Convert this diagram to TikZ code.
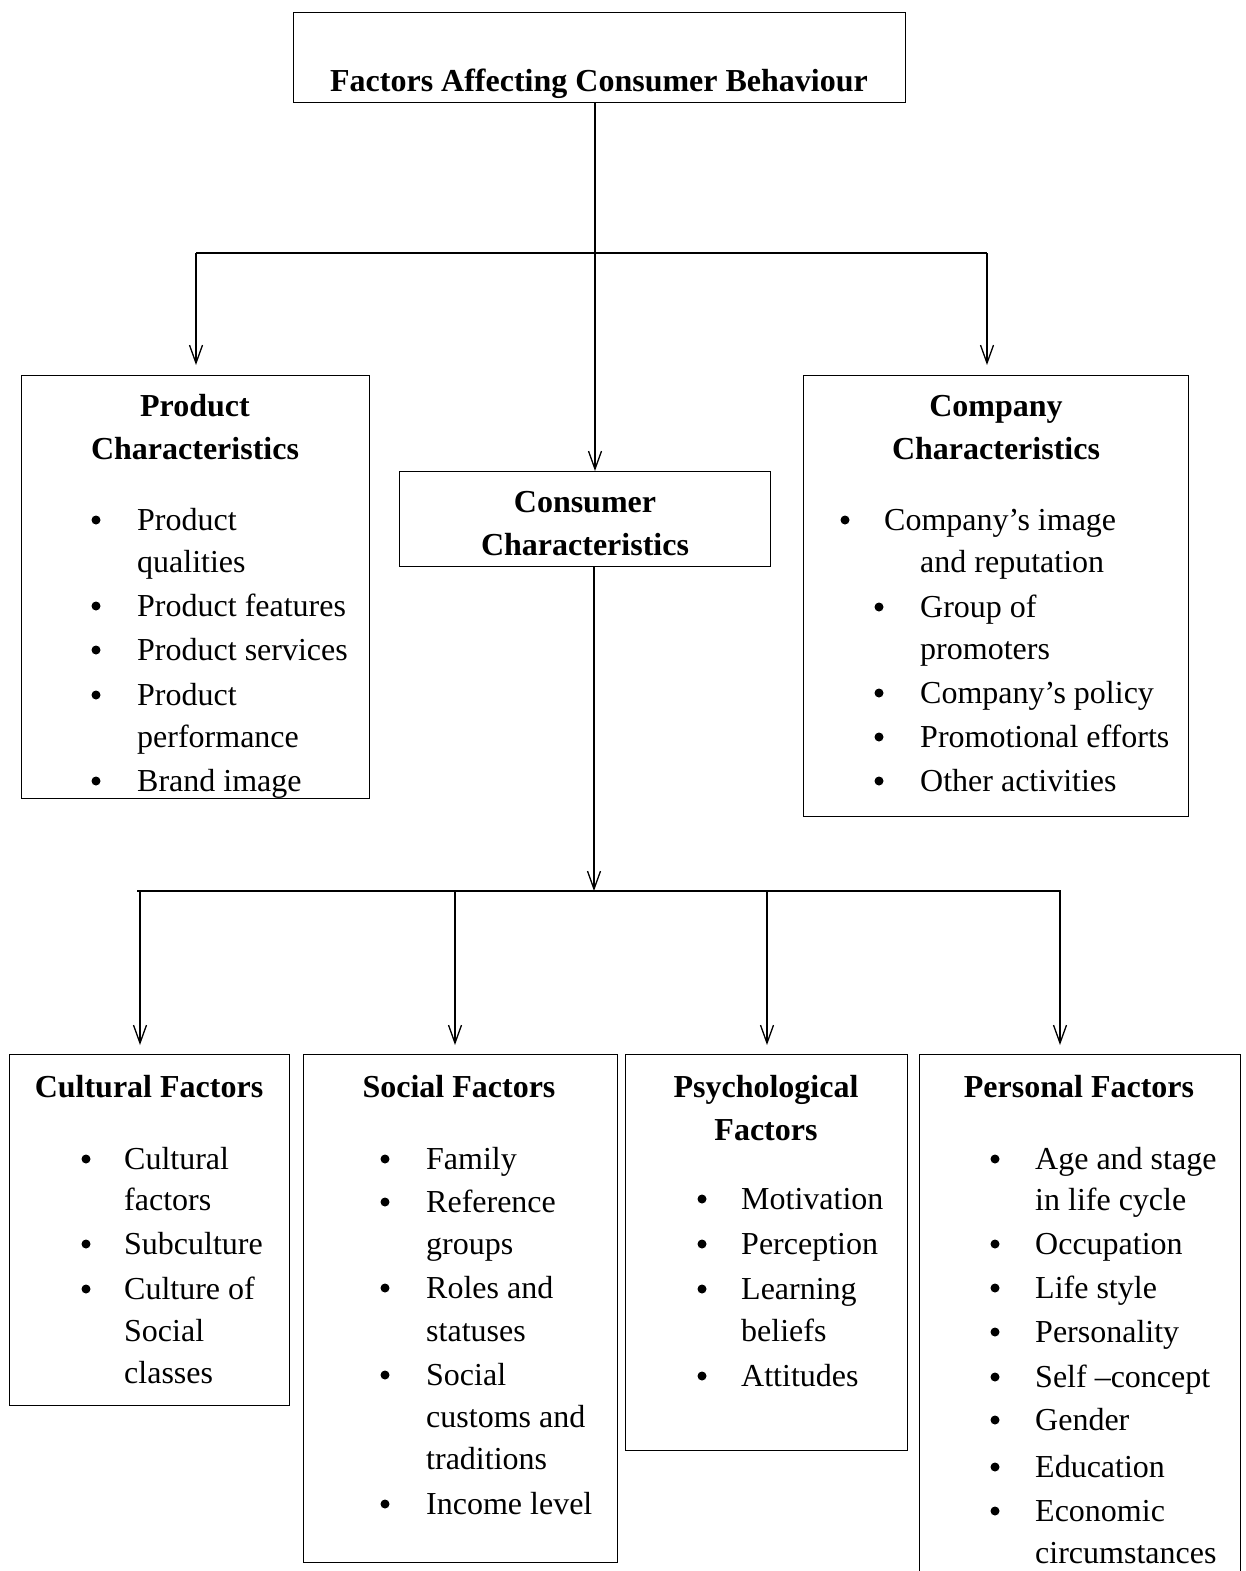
\documentclass[tikz,border=0pt]{standalone}
\usepackage{fontspec}
\setmainfont{Liberation Serif}
\usetikzlibrary{arrows.meta}

% bullet item line: name, bullet x, text x, baseline y, text
\newcommand\entry[5]{%
  \node[dot] (#1b) at (#2,#4-10) {};
  \node[txt] (#1) at (#3,#4) {#5};}
% continuation line of an item: name, text x, baseline y, text
\newcommand\wrapline[4]{\node[txt] (#1) at (#2,#3) {#4};}

\begin{document}
\begin{tikzpicture}[x=1pt,y=-1pt,
  box/.style={draw, line width=1.3pt, inner sep=0pt, anchor=north west},
  txt/.style={inner sep=0pt, font=\fontsize{32}{43}\selectfont, anchor=base west, yshift=-2pt},
  head/.style={inner sep=0pt, font=\fontsize{32}{43}\selectfont\bfseries, anchor=base, yshift=-2pt},
  dot/.style={circle, fill=black, inner sep=0pt, minimum size=9pt, yshift=-2pt},
  bar/.style={line width=2pt},
  arr/.style={line width=1.3pt, -{Straight Barb[length=18pt,width=13pt,line width=1.3pt]}}
]
\useasboundingbox (0,0) rectangle (1245,1571);

% ---------- boxes ----------
\node[box, minimum width=612pt, minimum height=90pt] (title) at (293,12) {};
\node[box, minimum width=348pt, minimum height=423pt] (product) at (21,375) {};
\node[box, minimum width=385pt, minimum height=441pt] (company) at (803,375) {};
\node[box, minimum width=371pt, minimum height=95pt] (consumer) at (399,471) {};
\node[box, minimum width=280pt, minimum height=351pt] (cultural) at (9,1054) {};
\node[box, minimum width=314pt, minimum height=508pt] (social) at (303,1054) {};
\node[box, minimum width=282pt, minimum height=396pt] (psych) at (625,1054) {};
\node[box, minimum width=321pt, minimum height=560pt] (personal) at (919,1054) {};

% ---------- title ----------
\node[head] (titletext) at (599,90) {Factors Affecting Consumer Behaviour};

% ---------- product characteristics ----------
\node[head] (ph1) at (195,414) {Product};
\node[head] (ph2) at (195,457) {Characteristics};
\entry{p1}{96}{137}{528}{Product}
\wrapline{p1c}{137}{570}{qualities}
\entry{p2}{96}{137}{614}{Product features}
\entry{p3}{96}{137}{658}{Product services}
\entry{p4}{96}{137}{703}{Product}
\wrapline{p4c}{137}{745}{performance}
\entry{p5}{96}{137}{789}{Brand image}

% ---------- company characteristics ----------
\node[head] (ch1) at (996,414) {Company};
\node[head] (ch2) at (996,457) {Characteristics};
\entry{c1}{845}{884}{528}{Company’s image}
\wrapline{c1c}{920}{570}{and reputation}
\entry{c2}{879}{920}{615}{Group of}
\wrapline{c2c}{920}{657}{promoters}
\entry{c3}{879}{920}{701}{Company’s policy}
\entry{c4}{879}{920}{745}{Promotional efforts}
\entry{c5}{879}{920}{789}{Other activities}

% ---------- consumer characteristics ----------
\node[head] (kh1) at (585,510) {Consumer};
\node[head] (kh2) at (585,553) {Characteristics};

% ---------- cultural factors ----------
\node[head] (uh1) at (149,1095) {Cultural Factors};
\entry{u1}{86}{124}{1167}{Cultural}
\wrapline{u1c}{124}{1208}{factors}
\entry{u2}{86}{124}{1252}{Subculture}
\entry{u3}{86}{124}{1297}{Culture of}
\wrapline{u3c}{124}{1339}{Social}
\wrapline{u3d}{124}{1381}{classes}

% ---------- social factors ----------
\node[head] (sh1) at (459,1095) {Social Factors};
\entry{s1}{385}{426}{1167}{Family}
\entry{s2}{385}{426}{1210}{Reference}
\wrapline{s2c}{426}{1252}{groups}
\entry{s3}{385}{426}{1296}{Roles and}
\wrapline{s3c}{426}{1339}{statuses}
\entry{s4}{385}{426}{1383}{Social}
\wrapline{s4c}{426}{1425}{customs and}
\wrapline{s4d}{426}{1467}{traditions}
\entry{s5}{385}{426}{1512}{Income level}

% ---------- psychological factors ----------
\node[head] (yh1) at (766,1095) {Psychological};
\node[head] (yh2) at (766,1138) {Factors};
\entry{y1}{702}{741}{1207}{Motivation}
\entry{y2}{702}{741}{1252}{Perception}
\entry{y3}{702}{741}{1297}{Learning}
\wrapline{y3c}{741}{1339}{beliefs}
\entry{y4}{702}{741}{1384}{Attitudes}

% ---------- personal factors ----------
\node[head] (eh1) at (1079,1095) {Personal Factors};
\entry{e1}{995}{1035}{1167}{Age and stage}
\wrapline{e1c}{1035}{1208}{in life cycle}
\entry{e2}{995}{1035}{1252}{Occupation}
\entry{e3}{995}{1035}{1296}{Life style}
\entry{e4}{995}{1035}{1340}{Personality}
\entry{e5}{995}{1035}{1385}{Self –concept}
\entry{e6}{995}{1035}{1428}{Gender}
\entry{e7}{995}{1035}{1475}{Education}
\entry{e8}{995}{1035}{1519}{Economic}
\wrapline{e8c}{1035}{1561}{circumstances}

% ---------- upper connectors ----------
\coordinate (jt) at (595,253);
\coordinate (jl) at (196,253);
\coordinate (jr) at (987,253);
\draw[arr] (title.south -| jt) -- (jt |- consumer.north);
\draw[bar] (jl) -- (jr);
\draw[arr, shorten >=10pt] (jl) -- (jl |- product.north);
\draw[arr, shorten >=10pt] (jr) -- (jr |- company.north);

% ---------- lower connectors ----------
\coordinate (jb) at (594,891);
\coordinate (bl) at (137,891);
\coordinate (br) at (1061,891);
\coordinate (a1) at (140,891);
\coordinate (a2) at (455,891);
\coordinate (a3) at (767,891);
\coordinate (a4) at (1060,891);
\draw[arr] (consumer.south -| jb) -- (jb);
\draw[bar] (bl) -- (br);
\draw[arr, shorten >=9pt] (a1) -- (a1 |- cultural.north);
\draw[arr, shorten >=9pt] (a2) -- (a2 |- social.north);
\draw[arr, shorten >=9pt] (a3) -- (a3 |- psych.north);
\draw[arr, shorten >=9pt] (a4) -- (a4 |- personal.north);
\end{tikzpicture}
\end{document}
